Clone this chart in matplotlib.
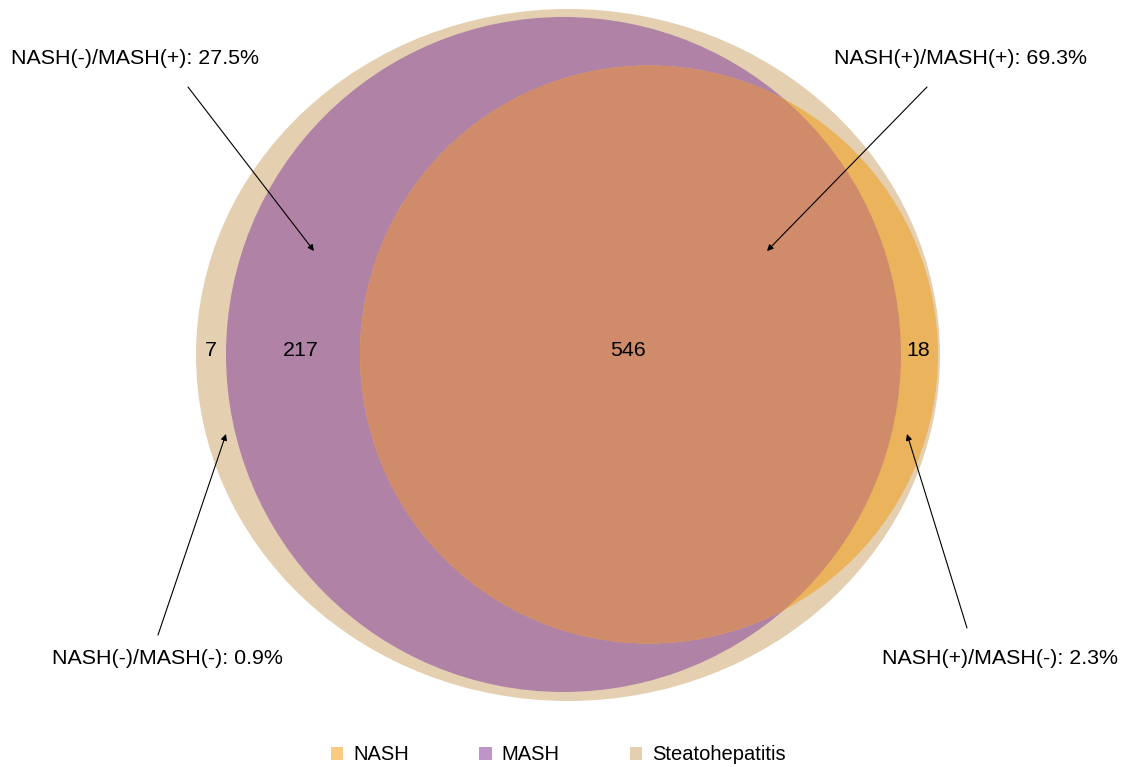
import matplotlib.pyplot as plt
from matplotlib.patches import Ellipse, Patch

plt.rcParams['font.family'] = ['Liberation Sans', 'DejaVu Sans']

# region counts
sets = ["NASH", "MASH", "Steatohepatitis"]
only_steato = 7
mash_only = 217
both = 546
nash_only = 18
total = only_steato + mash_only + both + nash_only

pct_labels = [
    "NASH(-)/MASH(+): %.1f%%" % (100 * mash_only / total),
    "NASH(+)/MASH(+): %.1f%%" % (100 * both / total),
    "NASH(-)/MASH(-): %.1f%%" % (100 * only_steato / total),
    "NASH(+)/MASH(-): %.1f%%" % (100 * nash_only / total),
]

c_nash = "#EBB35C"
c_mash = "#B082A6"
c_steato = "#E4CFB1"
c_overlap = "#D08B6A"
legend_colors = ["#F8CB80", "#BF95C7", "#E4CFB1"]

fig = plt.figure(figsize=(11.24, 7.67), dpi=100)
ax = fig.add_axes([0, 0, 1, 1])
ax.set_xlim(0, 1124)
ax.set_ylim(767, 0)
ax.axis("off")

# shapes (pixel layout)
steato = Ellipse((568, 355), 744, 692, color=c_steato, lw=0)
mash = Ellipse((563.5, 354.5), 675, 675, color=c_mash, lw=0)
nash = Ellipse((649, 354.5), 578, 578, color=c_nash, lw=0)
overlap = Ellipse((649, 354.5), 578, 578, color=c_overlap, lw=0)
for p in (steato, mash, nash, overlap):
    ax.add_patch(p)
overlap.set_clip_path(mash)

fs = 15.4
counts = [only_steato, mash_only, both, nash_only]
count_x = [211, 301, 628, 918]
for x, n in zip(count_x, counts):
    ax.text(x, 350, str(n), ha="center", va="center", fontsize=fs)

# callouts
text_pos = [(135, 58), (960, 58), (167, 659), (1000, 659)]
arrow_from = [(188, 87), (927, 87), (158, 635), (967, 628)]
arrow_to = [(314, 251), (767, 251), (226, 434), (907, 434)]
for lab, tp, a0, a1 in zip(pct_labels, text_pos, arrow_from, arrow_to):
    ax.text(tp[0], tp[1], lab, ha="center", va="center", fontsize=fs)
    ax.annotate("", xy=a1, xytext=a0,
                arrowprops=dict(arrowstyle="-|>", color="black", lw=0.8,
                                mutation_scale=9, shrinkA=0, shrinkB=0))

handles = [Patch(color=c, lw=0) for c in legend_colors]
fig.legend(handles, sets, loc="center", bbox_to_anchor=(558.5 / 1124, 1 - 755 / 767),
           ncol=3, frameon=False, fontsize=14.5, handlelength=0.6, handleheight=0.6,
           handletextpad=0.5, columnspacing=3.5)

fig.savefig("out.png", dpi=100)
